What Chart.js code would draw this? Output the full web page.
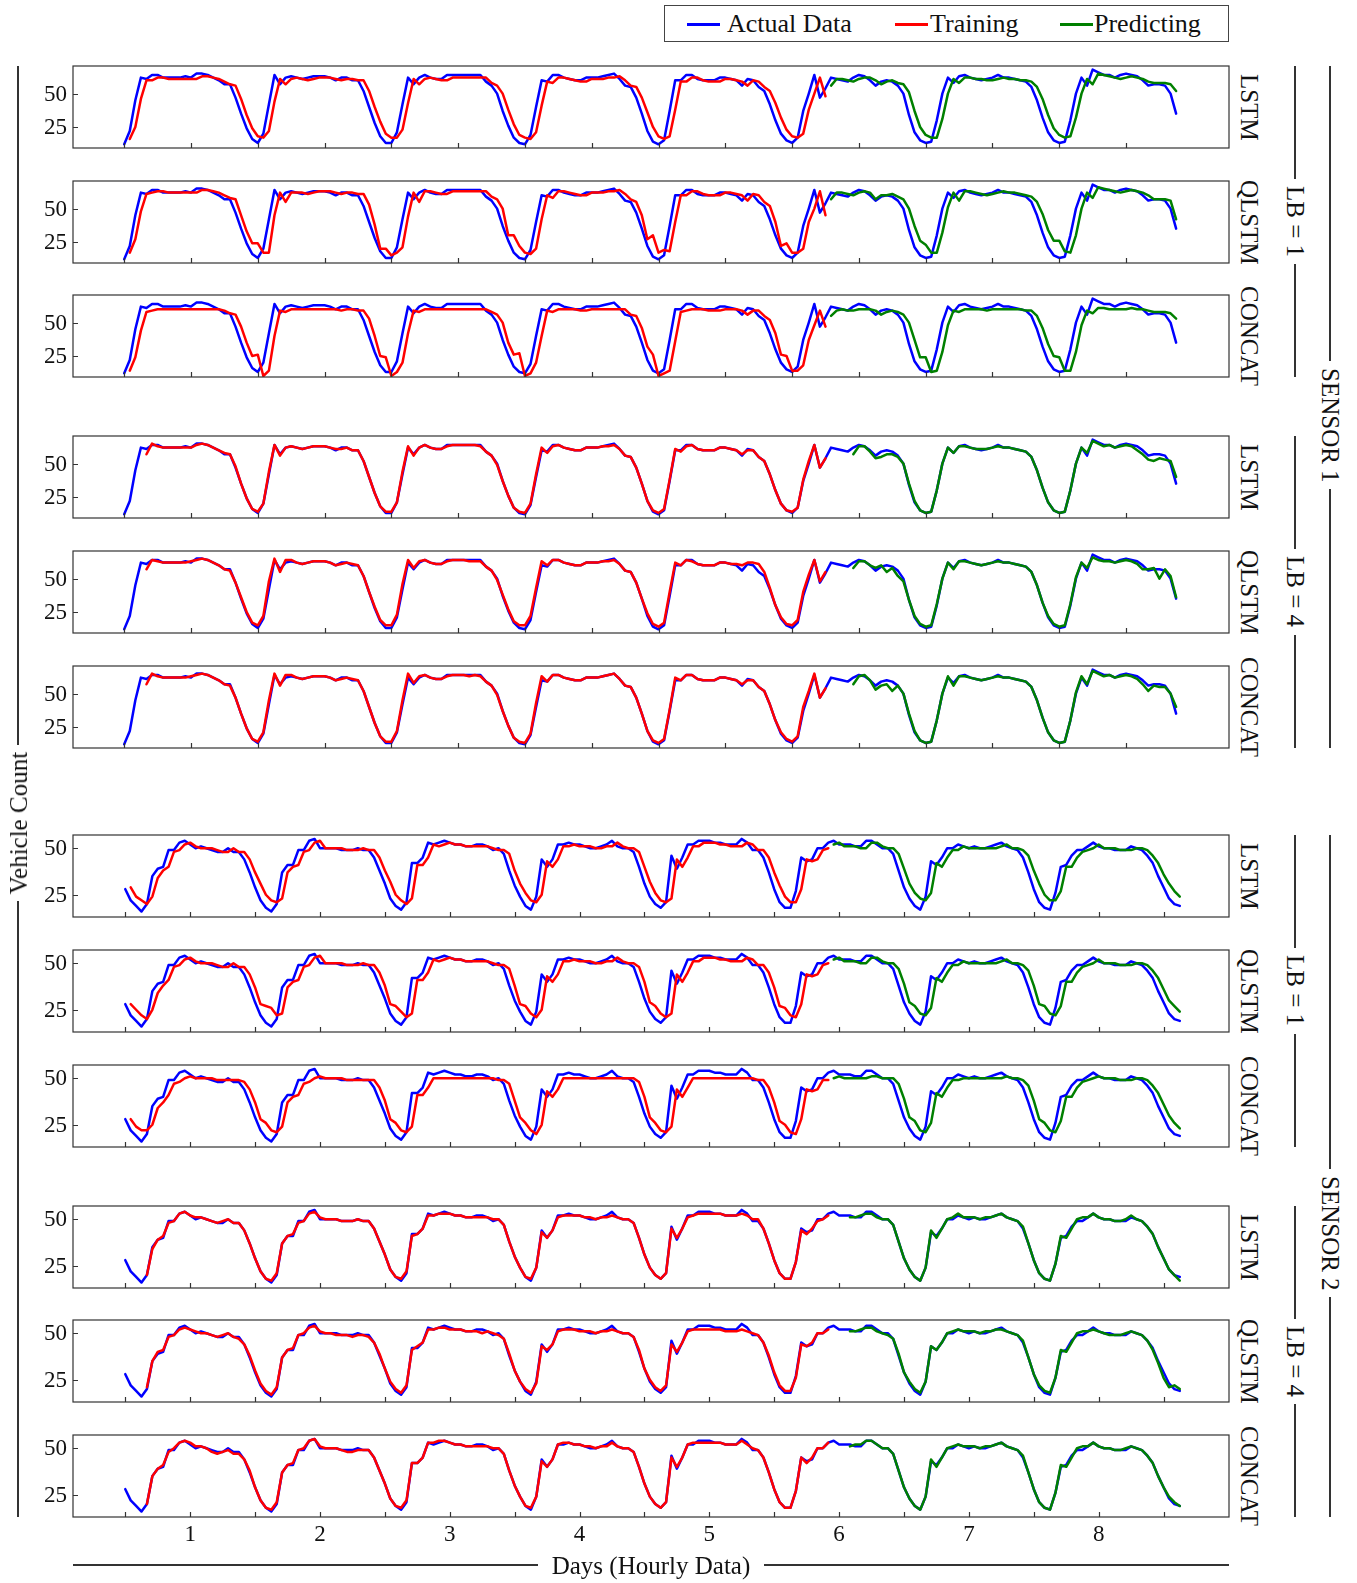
<!DOCTYPE html>
<html>
<head>
<meta charset="utf-8">
<script src="https://cdn.jsdelivr.net/npm/chart.js@4.4.0/dist/chart.umd.min.js"></script>
<style>
  html, body { margin: 0; padding: 0; background: #fff; }
  body { width: 1357px; height: 1583px; position: relative; overflow: hidden; font-family: "Liberation Serif", serif; color: #111; }
  canvas { position: absolute; left: 0; }
  .txt { position: absolute; font-size: 25px; white-space: nowrap; line-height: 1; }
  .vert { writing-mode: vertical-rl; }
  .ccw { writing-mode: vertical-rl; transform: rotate(180deg); }
  .rule { position: absolute; background: #333; }
  #legend { position: absolute; left: 664px; top: 5px; width: 565px; height: 37px; border: 1px solid #444; box-sizing: border-box; }
  #legend .sw { position: absolute; top: 17px; width: 33px; height: 2.5px; }
  #legend .lt { position: absolute; top: 5px; font-size: 26px; line-height: 1; }
</style>
</head>
<body>
<div id="legend">
  <div class="sw" style="left:22px;background:#0000ff"></div><div class="lt" style="left:62px">Actual Data</div>
  <div class="sw" style="left:230px;background:#ff0000"></div><div class="lt" style="left:265px">Training</div>
  <div class="sw" style="left:395px;background:#008000"></div><div class="lt" style="left:429px">Predicting</div>
</div>
<script>
// ---- data (hourly vehicle counts) ----
const dayLabels = ['1', '2', '3', '4', '5', '6', '7', '8'];
const yTickValues = [25, 50];

// Sensor 1, hours 0..189
const sensor1Actual = [
  12,22,45,62,61,64,64,62,62,62, 62,63,62,65,65,64,62,60,57,57, 47,35,24,16,13,20,42,64,57,62,
  63,62,61,62,63,63,63,62,60,62, 62,60,60,52,40,28,18,13,13,21, 42,62,57,62,64,62,61,61,64,64,
  64,64,64,64,64,59,56,50,37,26, 17,13,12,19,40,60,59,64,64,62, 61,60,60,62,62,62,63,64,65,61,
  56,55,47,35,22,14,12,15,37,60, 60,64,64,61,60,60,60,62,62,61, 60,56,61,60,55,52,42,30,20,15,
  13,17,37,50,64,47,54,62,61,60, 59,62,64,63,60,56,59,60,59,56, 50,34,21,15,13,14,30,50,62,58,
  63,64,62,61,60,61,62,64,62,62, 61,60,59,55,45,32,21,15,13,14, 30,50,62,56,68,66,64,64,62,64,
  65,64,63,60,56,57,57,56,50,35
];

// Sensor 1, look-back 1: training hours 1..126, predicting hours 127..189
const s1LstmLb1Train = [
  16,25,46,60,60,62,62,61,61,61, 61,61,61,63,63,62,61,59,57,56, 46,34,24,18,17,22,44,61,57,61,
  62,61,60,61,62,62,62,61,60,61, 61,60,60,52,40,29,20,17,17,23, 43,61,57,61,62,61,60,60,62,62,
  62,62,62,62,62,58,56,50,38,27, 19,17,16,21,41,59,58,62,62,61, 60,59,59,61,61,61,62,62,63,60,
  56,55,47,36,25,18,16,18,38,59, 59,62,62,60,59,59,59,61,61,60, 59,56,60,59,55,52,43,32,23,18,
  17,20,38,50,62,48
];
const s1LstmLb1Pred = [
  56,61,61,60,59,61,62,62,60,57, 59,60,58,57,51,37,25,19,17,17, 31,50,61,58,62,62,61,61,60,60,
  61,62,61,61,60,60,59,55,46,34, 24,19,17,18,32,50,61,57,65,64, 63,62,61,62,63,62,61,59,58,58,
  58,57,52
];
const s1QlstmLb1Train = [
  17,27,48,61,62,63,63,62,62,62, 62,62,62,64,64,63,62,60,58,57, 45,33,24,24,17,17,45,62,55,62,
  62,62,61,62,63,63,63,62,61,62, 62,61,61,53,38,20,20,15,17,21, 44,62,55,63,63,62,61,61,63,63,
  63,63,63,63,63,59,57,50,30,30, 22,17,16,20,42,60,58,63,63,62, 61,60,60,62,62,62,63,63,64,61,
  57,55,45,27,30,17,19,18,40,60, 60,63,63,61,60,60,60,62,62,61, 60,56,61,60,55,52,40,22,24,17,
  17,20,40,50,63,45
];
const s1QlstmLb1Pred = [
  57,62,62,61,60,62,63,62,57,60, 60,61,59,57,50,37,26,23,17,17, 32,51,62,56,63,63,62,61,60,61,
  62,63,62,62,61,60,59,55,46,34, 26,26,18,17,30,50,62,58,66,65, 64,63,62,63,64,63,62,60,57,57,
  57,56,42
];
const s1ConcatLb1Train = [
  14,24,44,58,59,60,60,60,60,60, 60,60,60,60,60,60,60,59,57,56, 47,35,25,26,10,14,40,59,58,60,
  60,60,60,60,60,60,60,60,59,60, 60,59,59,53,40,25,24,10,13,20, 42,59,58,60,60,60,60,60,60,60,
  60,60,60,60,60,58,56,50,35,26, 27,10,12,20,40,59,58,60,60,60, 60,59,59,60,60,60,60,60,60,60,
  56,55,46,32,26,10,12,14,36,58, 59,60,60,60,59,59,59,60,60,60, 59,56,59,59,55,52,42,26,25,14,
  14,18,37,48,59,47
];
const s1ConcatLb1Pred = [
  55,59,60,59,59,60,60,60,59,56, 58,59,58,56,50,37,24,24,13,14, 28,48,59,58,60,60,60,60,59,60,
  60,60,60,60,60,59,59,55,46,34, 25,24,14,14,28,48,59,57,61,61, 60,60,60,60,61,60,60,59,58,58,
  58,57,53
];

// Sensor 1, look-back 4: training hours 4..126, predicting hours 131..189
const s1LstmLb4Train = [
  57,65,63,62,62,62,62,62,62,64, 65,64,62,60,58,57,48,35,24,16, 14,20,44,64,56,62,63,62,61,62,
  63,63,63,62,61,61,62,60,60,52, 40,28,18,14,14,21,44,63,56,62, 64,62,61,61,63,64,64,64,64,64,
  63,59,56,49,37,26,17,14,13,20, 42,62,58,63,64,62,61,60,60,62, 62,62,63,63,64,61,56,55,47,35,
  22,15,13,16,38,61,59,63,64,61, 60,60,60,62,62,61,60,57,60,60, 55,52,42,30,20,15,14,17,38,52,
  64,47,54
];
const s1LstmLb4Pred = [
  57,63,63,59,54,55,57,57,55,50, 35,22,15,13,14,30,50,62,58,63, 63,62,61,61,61,62,63,62,62,61,
  60,59,55,45,32,21,15,13,14,30, 50,62,58,67,65,63,64,62,63,64, 63,60,57,53,52,54,53,52,40
];
const s1QlstmLb4Train = [
  57,64,63,62,62,62,62,62,63,64, 65,64,62,60,57,56,47,36,25,17, 15,22,48,65,55,64,64,62,61,62,
  63,63,63,62,60,61,62,61,60,52, 40,29,19,15,15,23,46,64,58,63, 64,62,61,61,63,64,64,64,63,63,
  63,59,56,49,38,27,18,15,15,22, 43,63,60,64,64,62,61,60,60,62, 62,62,63,63,64,61,56,55,47,35,
  24,16,14,17,40,62,60,64,63,61, 60,60,60,62,62,61,61,60,62,62, 61,55,43,30,21,16,15,19,40,53,
  64,48,55
];
const s1QlstmLb4Pred = [
  58,63,63,60,58,60,55,58,52,48, 34,22,16,14,15,31,50,62,57,63, 63,62,61,60,61,62,63,62,62,61,
  60,59,55,45,32,22,16,14,15,31, 51,62,58,66,64,63,63,62,63,64, 63,61,57,57,58,50,57,52,36
];
const s1ConcatLb4Train = [
  57,65,63,62,62,62,62,62,63,64, 65,64,62,60,57,56,47,35,24,16, 14,21,45,65,56,64,64,62,61,62,
  63,63,63,62,60,61,62,61,60,52, 40,28,18,14,14,22,45,65,58,63, 64,62,61,61,63,64,64,64,63,64,
  63,59,56,49,37,26,17,14,13,20, 43,63,59,64,64,62,61,60,60,62, 62,62,63,64,65,61,56,55,47,35,
  22,15,13,16,38,62,60,64,64,61, 60,60,60,62,62,61,60,57,60,60, 55,52,42,30,21,16,14,18,40,52,
  65,47,54
];
const s1ConcatLb4Pred = [
  57,63,64,60,53,56,57,52,56,50, 35,22,15,13,14,30,50,63,56,63, 63,62,61,60,61,62,63,62,62,61,
  60,59,55,45,32,21,15,13,14,30, 51,63,57,67,65,63,64,62,63,64, 63,61,57,52,56,55,55,50,40
];

// Sensor 2, hours 0..195
const sensor2Actual = [
  28,22,19,16,20,35,39,40,49,49, 53,54,52,50,51,50,49,48,48,50, 48,48,44,37,29,22,18,16,20,37,
  41,41,49,49,54,55,50,50,50,50, 49,49,49,50,49,49,45,38,31,23, 19,17,21,42,42,45,53,52,53,54,
  53,52,52,51,51,52,52,51,49,50, 47,38,30,24,19,17,24,44,40,44, 52,52,53,52,52,51,50,50,51,52,
  54,51,50,50,48,40,31,24,20,18, 21,46,39,45,52,52,54,54,54,53, 53,52,52,52,55,53,49,49,45,37,
  28,21,18,18,27,45,43,44,50,50, 53,54,52,52,52,51,51,54,54,52, 50,50,47,38,29,23,19,17,24,43,
  41,45,50,50,52,51,50,51,50,50, 51,52,53,51,50,49,45,37,28,21, 18,17,26,40,41,46,49,49,51,53,
  51,50,50,49,49,49,51,50,49,46, 42,35,29,23,20,19
];

// Sensor 2, look-back 1: training hours 1..130, predicting hours 131..195
const s2LstmLb1Train = [
  29,24,22,20,24,34,38,40,48,49, 52,53,51,50,50,50,49,48,48,50, 48,48,44,37,31,25,22,21,23,37,
  40,41,48,49,53,54,50,50,50,50, 49,49,49,50,49,49,45,38,32,25, 22,20,23,41,41,45,52,51,52,53,
  52,52,51,51,51,51,51,50,49,49, 47,38,31,26,22,21,25,43,40,44, 51,51,52,51,51,51,50,50,51,51,
  53,51,50,50,48,40,32,26,22,21, 23,44,40,45,51,51,53,53,53,52, 52,51,51,51,53,52,49,49,45,37,
  30,24,21,21,28,44,43,44,49,50
];
const s2LstmLb1Pred = [
  52,53,51,51,51,50,50,53,53,51, 50,50,47,39,31,26,23,22,26,42, 40,45,49,49,51,50,50,50,50,50,
  50,51,52,50,50,49,46,38,31,25, 22,22,27,40,40,45,48,49,50,52, 50,50,50,49,49,49,50,50,49,46,
  42,36,31,27,24
];
const s2QlstmLb1Train = [
  28,25,22,20,25,34,38,41,48,49, 52,53,51,50,50,50,49,48,48,50, 48,48,44,37,28,27,26,22,23,37,
  40,41,48,49,53,54,50,50,50,50, 49,49,49,50,49,49,45,38,28,27, 24,21,23,41,41,45,52,51,52,53,
  52,52,51,51,51,51,51,50,49,49, 47,38,28,27,23,21,25,43,40,44, 51,51,52,51,51,51,50,50,51,51,
  53,51,50,50,48,40,29,27,23,21, 23,44,40,45,51,51,53,53,53,52, 52,51,51,51,53,52,49,49,45,37,
  27,26,22,21,28,44,43,44,49,50
];
const s2QlstmLb1Pred = [
  52,53,51,51,51,50,50,53,53,51, 50,50,47,39,29,27,23,22,26,42, 40,45,49,49,51,50,50,50,50,50,
  50,51,52,50,50,49,46,38,28,27, 23,22,27,40,40,45,48,49,50,52, 50,50,50,49,49,49,50,50,49,46,
  42,36,30,27,24
];
const s2ConcatLb1Train = [
  28,24,22,22,25,34,37,41,47,48, 50,51,50,50,50,50,49,49,49,49, 49,48,44,37,28,26,22,21,24,37,
  40,41,47,48,50,51,50,50,50,50, 49,49,49,49,49,49,45,38,28,26, 22,21,24,41,41,45,50,50,50,50,
  50,50,50,50,50,50,50,50,49,49, 47,38,29,26,22,20,25,43,40,44, 50,50,50,50,50,50,50,50,50,50,
  50,50,50,50,48,40,29,26,22,21, 24,44,40,45,50,50,50,50,50,50, 50,50,50,50,50,50,49,49,45,37,
  27,25,21,20,28,44,43,44,49,49
];
const s2ConcatLb1Pred = [
  50,51,50,50,50,50,50,51,51,50, 50,50,47,39,29,27,22,21,26,42, 40,45,49,49,50,50,50,50,50,50,
  50,50,51,50,50,49,46,38,28,26, 22,21,27,40,40,45,48,49,50,51, 50,50,50,49,49,49,50,50,49,46,
  42,36,30,26,23
];

// Sensor 2, look-back 4: training hours 4..130, predicting hours 134..195
const s2LstmLb4Train = [
  20,34,39,41,48,49,53,54,52,51, 51,50,49,48,49,50,48,48,44,37, 29,22,18,17,21,37,41,42,48,49,
  53,54,51,50,50,50,49,49,49,50, 49,49,45,38,31,23,19,18,22,41, 42,45,52,52,53,53,53,52,52,51,
  51,51,51,51,50,50,47,38,30,24, 19,18,24,43,40,44,51,52,52,52, 52,51,51,50,51,51,52,51,50,50,
  48,40,31,24,20,18,21,45,40,45, 51,52,53,53,53,53,53,52,52,52, 53,52,50,50,45,37,28,21,18,18,
  27,44,42,45,49,50,52
];
const s2LstmLb4Pred = [
  51,51,52,53,53,51,50,50,47,38, 29,23,19,17,24,44,40,45,50,51, 53,51,51,51,50,51,51,52,53,51,
  50,49,46,37,28,21,18,17,26,41, 40,45,50,51,51,53,51,50,50,49, 49,50,52,50,49,46,42,35,29,23,
  20,17
];
const s2QlstmLb4Train = [
  21,35,40,41,48,49,52,53,52,51, 50,50,49,48,49,50,48,47,44,38, 30,23,19,17,21,37,41,42,49,50,
  53,54,51,50,50,49,49,49,48,49, 49,48,45,39,31,24,20,18,22,41, 43,45,52,52,53,53,52,52,52,51,
  51,51,50,51,50,49,47,39,30,24, 20,18,23,43,41,44,51,52,52,52, 51,51,51,50,51,51,52,51,50,50,
  48,41,31,25,21,19,22,44,40,45, 51,52,52,52,52,52,52,51,51,51, 52,51,50,49,45,38,29,22,19,19,
  26,44,43,45,50,50,52
];
const s2QlstmLb4Pred = [
  51,51,52,53,53,51,50,49,47,39, 29,24,20,18,24,43,41,45,50,51, 52,51,51,51,50,51,51,52,52,51,
  50,49,46,37,28,22,19,18,26,41, 40,45,50,51,51,52,51,50,49,49, 49,50,51,50,49,46,41,34,26,21,
  22,20
];
const s2ConcatLb4Train = [
  20,35,39,41,48,50,53,54,53,51, 51,50,48,47,48,49,47,47,44,38, 29,22,18,17,21,37,41,42,49,50,
  54,55,51,50,50,50,49,48,48,49, 49,49,45,38,31,23,19,18,22,42, 42,45,53,53,54,54,53,52,52,51,
  51,51,51,51,50,50,47,38,30,24, 19,18,24,43,40,44,52,53,53,52, 52,51,51,50,51,51,53,51,50,50,
  48,40,31,24,20,18,21,45,40,45, 52,53,53,53,53,53,53,52,52,52, 54,52,50,49,45,37,28,21,18,18,
  27,45,42,45,50,50,53
];
const s2ConcatLb4Pred = [
  51,52,52,54,54,52,50,50,47,38, 29,23,19,17,24,44,40,45,50,51, 52,51,51,51,50,51,51,52,53,51,
  50,49,46,37,28,21,18,17,26,41, 40,45,50,51,51,53,51,50,50,49, 49,50,51,50,49,46,42,35,29,24,
  21,19
];

// ---- panels ----
const panels = [
  { sensor: 1, model: 'LSTM',   actual: sensor1Actual, train: s1LstmLb1Train,   trainFrom: 1, pred: s1LstmLb1Pred,   predFrom: 127 },
  { sensor: 1, model: 'QLSTM',  actual: sensor1Actual, train: s1QlstmLb1Train,  trainFrom: 1, pred: s1QlstmLb1Pred,  predFrom: 127 },
  { sensor: 1, model: 'CONCAT', actual: sensor1Actual, train: s1ConcatLb1Train, trainFrom: 1, pred: s1ConcatLb1Pred, predFrom: 127 },
  { sensor: 1, model: 'LSTM',   actual: sensor1Actual, train: s1LstmLb4Train,   trainFrom: 4, pred: s1LstmLb4Pred,   predFrom: 131 },
  { sensor: 1, model: 'QLSTM',  actual: sensor1Actual, train: s1QlstmLb4Train,  trainFrom: 4, pred: s1QlstmLb4Pred,  predFrom: 131 },
  { sensor: 1, model: 'CONCAT', actual: sensor1Actual, train: s1ConcatLb4Train, trainFrom: 4, pred: s1ConcatLb4Pred, predFrom: 131 },
  { sensor: 2, model: 'LSTM',   actual: sensor2Actual, train: s2LstmLb1Train,   trainFrom: 1, pred: s2LstmLb1Pred,   predFrom: 131 },
  { sensor: 2, model: 'QLSTM',  actual: sensor2Actual, train: s2QlstmLb1Train,  trainFrom: 1, pred: s2QlstmLb1Pred,  predFrom: 131 },
  { sensor: 2, model: 'CONCAT', actual: sensor2Actual, train: s2ConcatLb1Train, trainFrom: 1, pred: s2ConcatLb1Pred, predFrom: 131 },
  { sensor: 2, model: 'LSTM',   actual: sensor2Actual, train: s2LstmLb4Train,   trainFrom: 4, pred: s2LstmLb4Pred,   predFrom: 134 },
  { sensor: 2, model: 'QLSTM',  actual: sensor2Actual, train: s2QlstmLb4Train,  trainFrom: 4, pred: s2QlstmLb4Pred,  predFrom: 134 },
  { sensor: 2, model: 'CONCAT', actual: sensor2Actual, train: s2ConcatLb4Train, trainFrom: 4, pred: s2ConcatLb4Pred, predFrom: 134 },
];

// ---- layout ----
const panelTops = [66, 181, 295, 436, 551, 666, 835, 950, 1065, 1206, 1320, 1435];
const PANEL_H = 82;
const PAD = 12;
const AREA_LEFT = 73, AREA_RIGHT = 1229;
// axis ranges per sensor (x in hours since start)
const axes = {
  1: { xMin: -9.2, xMax: 198.5, yMin: 9.25, yMax: 70.7 },
  2: { xMin: -9.67, xMax: 204.1, yMin: 13.05, yMax: 57.1 },
};
const SERIF = '"Liberation Serif", serif';

const toPoints = (vals, from) => vals.map((v, i) => ({ x: from + i, y: v }));

// frame, inward ticks and tick labels
const framePlugin = {
  id: 'frame',
  afterDraw(chart, args, opts) {
    const { ctx, chartArea: a, scales: { x, y } } = chart;
    ctx.save();
    ctx.strokeStyle = '#333';
    ctx.lineWidth = 1.2;
    ctx.strokeRect(a.left, a.top, a.right - a.left, a.bottom - a.top);
    ctx.beginPath();
    for (let h = 0; h <= opts.lastHour; h += 12) {
      const px = Math.round(x.getPixelForValue(h)) + 0.5;
      ctx.moveTo(px, a.bottom);
      ctx.lineTo(px, a.bottom - 5);
    }
    yTickValues.forEach(v => {
      const py = Math.round(y.getPixelForValue(v)) + 0.5;
      ctx.moveTo(a.left, py);
      ctx.lineTo(a.left + 5, py);
    });
    ctx.stroke();

    ctx.fillStyle = '#111';
    ctx.font = '23px ' + SERIF;
    ctx.textBaseline = 'middle';
    ctx.textAlign = 'right';
    yTickValues.forEach(v => ctx.fillText(String(v), a.left - 6, y.getPixelForValue(v) + 1));
    if (opts.dayLabels) {
      ctx.textAlign = 'center';
      dayLabels.forEach((d, i) => ctx.fillText(d, x.getPixelForValue(12 + 24 * i), a.bottom + 18));
    }
    ctx.restore();
  }
};

panels.forEach((p, idx) => {
  const isLast = idx === panels.length - 1;
  const padBottom = isLast ? 45 : PAD;
  const cv = document.createElement('canvas');
  cv.width = AREA_RIGHT + 2;
  cv.height = PANEL_H + PAD + padBottom;
  cv.style.top = (panelTops[idx] - PAD) + 'px';
  document.body.appendChild(cv);
  const ax = axes[p.sensor];

  new Chart(cv, {
    type: 'line',
    data: {
      datasets: [
        { label: 'Predicting', data: toPoints(p.pred, p.predFrom), borderColor: '#008000', order: 1 },
        { label: 'Training', data: toPoints(p.train, p.trainFrom), borderColor: '#ff0000', order: 2 },
        { label: 'Actual Data', data: toPoints(p.actual, 0), borderColor: '#0000ff', order: 3 },
      ]
    },
    options: {
      responsive: false,
      animation: false,
      events: [],
      layout: { padding: { top: PAD, bottom: padBottom, left: AREA_LEFT, right: 2 } },
      elements: {
        point: { radius: 0 },
        line: { borderWidth: 2.5, tension: 0, borderJoinStyle: 'round', borderCapStyle: 'round', fill: false }
      },
      plugins: {
        legend: { display: false },
        tooltip: { enabled: false },
        frame: { lastHour: p.actual.length - 1, dayLabels: isLast }
      },
      scales: {
        x: { type: 'linear', min: ax.xMin, max: ax.xMax, display: false },
        y: { min: ax.yMin, max: ax.yMax, display: false }
      }
    },
    plugins: [framePlugin]
  });
});

// ---- text labels and bracket rules ----
function addText(str, cx, cy, cls) {
  const d = document.createElement('div');
  d.className = 'txt ' + (cls || '');
  d.textContent = str;
  document.body.appendChild(d);
  const r = d.getBoundingClientRect();
  d.style.left = (cx - r.width / 2) + 'px';
  d.style.top = (cy - r.height / 2) + 'px';
  return r;
}
function rule(x, y, w, h) {
  const d = document.createElement('div');
  d.className = 'rule';
  Object.assign(d.style, { left: x + 'px', top: y + 'px', width: w + 'px', height: h + 'px' });
  document.body.appendChild(d);
}
function vBracket(str, x, top, bottom, cy, cls) {
  const r = addText(str, x, cy, cls || 'vert');
  const gap = 7;
  rule(x - 0.65, top, 1.3, cy - r.height / 2 - gap - top);
  rule(x - 0.65, cy + r.height / 2 + gap, 1.3, bottom - (cy + r.height / 2 + gap));
}

panels.forEach((p, idx) => addText(p.model, 1249, panelTops[idx] + PANEL_H / 2, 'vert'));

const groups = [
  { text: 'LB = 1', a: 0, b: 2 }, { text: 'LB = 4', a: 3, b: 5 },
  { text: 'LB = 1', a: 6, b: 8 }, { text: 'LB = 4', a: 9, b: 11 },
];
groups.forEach(g => {
  const top = panelTops[g.a], bottom = panelTops[g.b] + PANEL_H;
  vBracket(g.text, 1295, top, bottom, (top + bottom) / 2);
});
vBracket('SENSOR 1', 1330, panelTops[0], panelTops[5] + PANEL_H, 425);
vBracket('SENSOR 2', 1330, panelTops[6], panelTops[11] + PANEL_H, 1233);
vBracket('Vehicle Count', 18, panelTops[0], panelTops[11] + PANEL_H, 823, 'ccw');

// bottom axis title with rules
(function () {
  const r = addText('Days (Hourly Data)', 651, 1565);
  const gap = 14;
  rule(AREA_LEFT, 1564.35, 651 - r.width / 2 - gap - AREA_LEFT, 1.3);
  rule(651 + r.width / 2 + gap, 1564.35, AREA_RIGHT - (651 + r.width / 2 + gap), 1.3);
})();
</script>
</body>
</html>
